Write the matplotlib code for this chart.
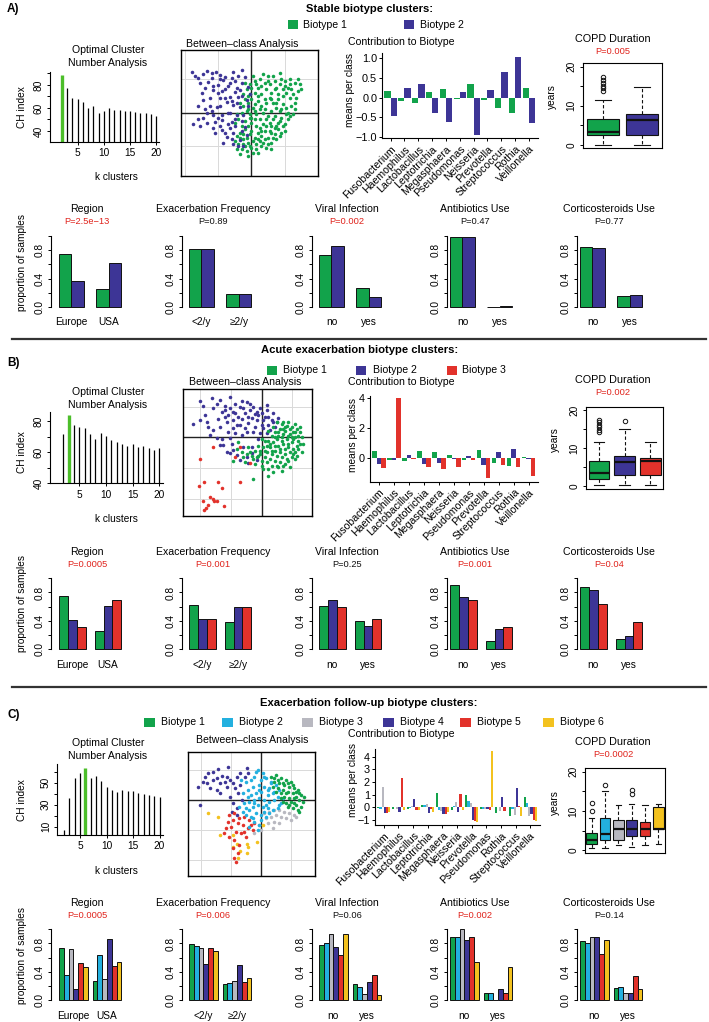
import numpy as np
import matplotlib
matplotlib.use("Agg")
import matplotlib.pyplot as plt
from matplotlib.patches import Rectangle

plt.rcParams['font.family'] = ['Liberation Sans', 'DejaVu Sans']
plt.rcParams['axes.linewidth'] = 0.8
plt.rcParams['xtick.major.size'] = 2.5
plt.rcParams['ytick.major.size'] = 2.5
plt.rcParams['xtick.major.width'] = 0.7
plt.rcParams['ytick.major.width'] = 0.7
plt.rcParams['xtick.labelsize'] = 7.3
plt.rcParams['ytick.labelsize'] = 7.3

# ---------------- colours ----------------
GREEN, PURPLE, RED = '#12A34B', '#3D3596', '#E2322B'
CYAN, GREY, YELLOW = '#23B0DF', '#B8B8C0', '#F3C21F'
LIME, PRED = '#4CBE2A', '#E0231C'

# ---------------- data ----------------
ks = list(range(2, 21))
ch_A = [89, 77, 69, 68, 65, 60, 62, 55.4, 57.4, 59.7, 58.3, 58, 57.4, 57, 56.5, 56, 55.5, 54.5, 53]
ch_B = [71.5, 83.8, 77.4, 76.2, 75.3, 71.5, 68.3, 72.1, 70.4, 67.8, 66.3, 65, 64, 65.2, 63.1, 64, 62.5, 61.4, 62.5]
ch_C = [7, 36.4, 54, 58.5, 63.6, 54, 56.4, 51.8, 46.4, 43.4, 41.8, 43.4, 42.8, 42.5, 40.3, 39.6, 38.8, 37.9, 37.3]
best_k = [2, 3, 6]

genera_A = ['Fusobacterium', 'Haemophilus', 'Lactobacillus', 'Leptotrichia', 'Megasphaera', 'Pseudomonas',
            'Neisseria', 'Prevotella', 'Streptococcus', 'Rothia', 'Veillonella']
genera_B = ['Fusobacterium', 'Haemophilus', 'Lactobacillus', 'Leptotrichia', 'Megasphaera', 'Neisseria',
            'Pseudomonas', 'Prevotella', 'Streptococcus', 'Rothia', 'Veillonella']
genera_C = ['Fusobacterium', 'Haemophilus', 'Lactobacillus', 'Leptotrichia', 'Megasphaera', 'Neisseria',
            'Prevotella', 'Pseudomonas', 'Rothia', 'Streptococcus', 'Veillonella']

contrib_A1 = [0.18, -0.08, -0.13, 0.15, 0.22, -0.04, 0.35, -0.06, -0.25, -0.38, 0.24]
contrib_A2 = [-0.47, 0.24, 0.34, -0.40, -0.61, 0.14, -0.95, 0.19, 0.66, 1.03, -0.64]

contrib_B1 = [0.45, -0.16, -0.20, 0.45, 0.36, 0.18, -0.16, 0.52, -0.32, -0.55, 0.07]
contrib_B2 = [-0.39, -0.16, 0.18, -0.43, -0.32, -0.11, 0.14, -0.45, 0.36, 0.59, -0.05]
contrib_B3 = [-0.68, 4.0, -0.09, -0.61, -0.73, -0.59, -0.16, -1.36, -0.50, -0.61, -1.23]

contrib_C1 = [-0.05, -0.10, -0.15, 0.20, 1.10, -0.20, 0.95, -0.15, -0.45, -0.65, 0.80]
contrib_C2 = [-0.10, 0.02, -0.05, 0.15, -0.20, 0.10, 0.50, -0.15, 0.05, -0.10, 0.30]
contrib_C3 = [1.60, -0.10, 0.10, 0.25, -0.30, 0.40, 0.35, -0.10, -0.30, -0.60, -0.70]
contrib_C4 = [-0.45, -0.35, 0.65, -0.45, -0.50, -0.40, -1.00, -0.15, 0.85, 1.50, -0.50]
contrib_C5 = [-0.45, 2.30, -0.25, -0.10, -0.50, 1.05, -1.05, -0.20, -0.30, 0.10, -1.00]
contrib_C6 = [-0.40, -0.20, -0.20, -0.40, -0.35, -0.20, -1.15, 4.45, 0.05, -0.70, -1.05]

# between-class analysis scores (arbitrary units)
bca_A_b2 = [(-180, 123), (-160, 103), (-135, 126), (-107, 123), (-155, 88), (-130, 93), (-100, 83), (-115, 68),
            (-85, 98), (-65, 88), (-55, 123), (-30, 128), (-20, 108), (-35, 68), (-45, 73), (-65, 48), (-95, 43),
            (-125, 43), (-145, 38), (-105, 18), (-75, 33), (-55, 23), (-35, 18), (-15, 38), (-135, -2), (-115, -7),
            (-90, -7), (-65, -2), (-45, -7), (-25, -7), (-110, -27), (-90, -22), (-60, -27), (-175, -34), (-155, -40),
            (-115, -47), (-90, -52), (-65, -45), (-55, -60), (-75, -72), (-85, -92), (-35, -82), (-15, -67), (-20, -42),
            (-40, 48), (-50, 63), (-30, 88), (-10, 78), (-95, 113), (-80, 108), (-120, 103), (-150, 60), (-125, 20),
            (-100, 60), (-80, 70), (-60, 105), (-70, 0), (-50, -40), (-30, -25), (-10, 20), (-5, 55), (-140, 10),
            (-100, -15), (-80, -60), (-40, -100), (-60, -80),
            (-170, 110), (-145, 115), (-120, 120), (-95, 100), (-140, 75), (-115, 80), (-90, 65), (-70, 80),
            (-50, 95), (-40, 110), (-160, 20), (-145, -15), (-120, 5), (-95, 20), (-80, 45), (-60, 35), (-45, 30),
            (-30, 50), (-110, -60), (-95, -40), (-70, -35), (-50, -20), (-30, -55), (-25, -100), (-55, -95),
            (-160, -20), (-135, -30)]
bca_A_b1 = [(-50, -85), (-40, -95), (-30, -110), (-20, -100), (-45, -70), (-35, -60), (-25, -80), (-10, -90), (0, -105),
            (5, -120), (-15, -115), (15, -95), (25, -85), (10, -75), (-5, -65), (-20, -50), (-30, -40), (-10, -40),
            (0, -55), (20, -60), (30, -70), (40, -55), (35, -90), (50, -75), (60, -60), (45, -40), (55, -30), (70, -45),
            (80, -30), (65, -20), (90, -15), (100, -35), (110, -20), (85, 5), (95, 25), (75, 15), (60, 5), (50, -10),
            (40, 10), (25, -20), (15, -5), (5, 15), (-5, -15), (-15, 5), (-25, 20), (-10, 30), (0, 40), (10, 25),
            (20, 35), (30, 20), (45, 30), (55, 45), (65, 30), (80, 40), (95, 50), (105, 60), (115, 45), (120, 20),
            (110, 0), (125, -5), (130, 30), (140, 65), (100, 80), (90, 100), (75, 75), (60, 60), (45, 70), (30, 55),
            (20, 75), (10, 60), (-5, 55), (-15, 70), (-5, 85), (10, 95), (25, 100), (40, 90), (50, 110), (35, 115),
            (70, 95), (85, 120), (100, 95), (115, 100), (130, 90), (140, 100), (120, 70), (5, 110), (-20, 40), (-30, 0),
            (-40, -20), (-20, -25), (15, -40), (35, -35), (25, -45), (60, -90), (45, -105), (20, -120), (-35, -125),
            (-10, -130), (75, -80), (90, -60), (70, 70), (55, 85), (80, 55), (-10, 10), (0, -30), (35, 0), (70, -10),
            (105, 15), (150, 70), (85, -25),
            (-45, -110), (-25, -95), (-5, -100), (15, -110), (30, -100), (50, -95), (65, -75), (80, -50), (95, -40),
            (115, -10), (130, 10), (135, 45), (125, 55), (110, 75), (95, 70), (85, 85), (65, 110), (50, 95), (30, 80),
            (15, 85), (0, 75), (-10, 50), (-25, 55), (-35, 30), (-45, -5), (-50, -30), (-35, -75), (-15, -75),
            (5, -85), (20, -80), (40, -80), (55, -55), (70, -65), (85, -70), (100, -55), (105, -5), (90, 10), (75, 30),
            (60, 40), (40, 40), (25, 10), (10, 5), (-5, -5), (10, -20), (30, -55), (45, -20), (60, -40), (75, -40),
            (115, 85), (145, 85), (-25, -65), (0, -15), (20, 50), (-20, 90), (60, -110)]

bca_B_b2 = [(-185, 109), (-150, 117), (-125, 112), (-95, 122), (-205, 39), (-170, 67), (-145, 87), (-120, 77), (-95, 87),
            (-80, 72), (-65, 92), (-45, 107), (-25, 92), (-5, 87), (15, 82), (35, 72), (50, 57), (30, 52), (10, 62),
            (-10, 67), (-30, 57), (-50, 72), (-70, 62), (-85, 52), (-105, 47), (-125, 32), (-145, 22), (-165, 47),
            (-185, 52), (-85, 27), (-65, 37), (-40, 42), (-20, 32), (0, 37), (20, 37), (40, 32), (-25, 17), (-45, 17),
            (-5, 12), (15, 12), (-60, 7), (-80, 12), (-95, -3), (-115, -23), (-105, -43), (-85, -38), (-75, -53),
            (-95, -48), (-65, -68), (-45, -58), (-30, -48), (-15, -68), (-40, -78), (-125, -23), (25, 22), (5, 52),
            (-15, 77), (-35, 82), (-55, 87), (-135, -3), (-155, 7), (-85, 77), (-15, 52), (35, 47), (15, 97), (-75, 37),
            (-50, 27), (5, 27), (-100, 67), (-110, 82),
            (-175, 95), (-135, 100), (-110, 95), (-80, 100), (-60, 110), (-35, 100), (-20, 70), (0, 72), (20, 60),
            (45, 45), (-110, 60), (-130, 55), (-160, 30), (-100, 15), (-120, -5), (-90, -20), (-55, -30), (-30, -30),
            (-10, -5), (-60, 55), (-40, 60)]
bca_B_b1 = [(60, 40), (75, 35), (90, 30), (105, 25), (115, 15), (120, 0), (110, -10), (100, 0), (85, 10), (70, 20),
            (55, 25), (40, 15), (30, 5), (45, -5), (60, 0), (75, -5), (90, -15), (105, -25), (95, -35), (80, -30),
            (65, -20), (50, -25), (35, -15), (20, -10), (25, -30), (40, -40), (55, -45), (70, -50), (85, -45),
            (100, -45), (110, -35), (90, -60), (75, -65), (60, -60), (45, -55), (30, -50), (15, -45), (5, -30),
            (-10, -25), (-20, -40), (-5, -50), (10, -60), (25, -65), (40, -70), (55, -75), (70, -80), (50, -90),
            (30, -85), (15, -75), (0, -70), (-15, -60), (-30, -55), (-45, -50), (-60, -45), (-20, -80), (5, -95),
            (35, -105), (20, -115), (60, -100), (-25, -125), (80, -20), (95, 15), (65, 10), (50, 5), (35, 30), (20, 20),
            (45, 45), (65, 45), (80, 45), (100, 40), (115, 30), (125, -20), (120, -45), (100, -65), (85, -90), (10, -10),
            (0, -5), (-5, -40), (-40, -30), (-55, -60), (-75, -35), (-85, -70), (-70, -15),
            (50, 15), (65, 25), (85, 25), (100, 15), (110, 5), (95, -5), (80, 5), (60, -10), (40, 0), (25, -20),
            (10, -40), (-10, -55), (-25, -65), (0, -85), (45, -85), (65, -85), (80, -70), (95, -50), (115, -20),
            (105, -55), (70, -35), (55, -35), (40, -25), (30, -40), (15, -25), (70, 30), (90, 0), (20, -95),
            (-35, -45), (-50, -75)]
bca_B_b3 = [(-145, -28), (-65, -28), (-185, -65), (-35, -78), (-65, -135), (-187, -145), (-173, -133), (-130, -135),
            (-120, -153), (-177, -191), (-155, -178), (-145, -185), (-143, -191), (-160, -203), (-167, -213),
            (-173, -218), (-135, -191), (-113, -205), (-80, -58)]

bca_C_b4 = [(-188, 40), (-183, -15), (-173, 55), (-168, 68), (-158, 80), (-143, 85), (-133, 65), (-123, 50), (-118, 72),
            (-108, 55), (-103, 68), (-93, 60), (-83, 50), (-73, 68), (-63, 80), (-48, 70), (-38, 80), (-43, 95),
            (-128, 92), (-98, 100), (-153, 35), (-133, 30), (-103, 40), (-78, 35), (-63, 45), (-93, 10), (-83, -10),
            (-71, -25), (-88, -35), (-73, -45), (-58, 0), (-68, 20), (-143, 60), (-163, 50), (-123, 20)]
bca_C_b2 = [(-10, 90), (5, 80), (-20, 70), (0, 60), (15, 65), (30, 55), (45, 45), (25, 35), (10, 40), (-5, 45), (-25, 40),
            (-40, 30), (-55, 20), (-30, 15), (-15, 20), (0, 25), (20, 15), (35, 20), (50, 10), (65, 5), (40, 0), (25, -5),
            (10, 0), (-5, 5), (-20, 0), (-35, -5), (-50, -10), (-65, -20), (-45, -25), (-25, -20), (-10, -15), (5, -20),
            (20, -25), (35, -30), (50, -25), (-15, -40), (0, -45), (15, -50), (-30, -50), (-45, -45), (-20, -65),
            (-5, -75), (-35, -80), (-10, -90), (30, 50), (55, 30), (-45, 55), (-60, 60), (10, -35), (60, -10),
            (-15, 85), (10, 70), (-30, 60), (20, 30), (-5, 30), (-20, -10), (-40, 10), (40, 25), (55, -15), (25, -40),
            (-35, -30), (-55, -35), (-25, -55), (0, -60), (15, -15)]
bca_C_b1 = [(30, 70), (45, 75), (60, 65), (75, 60), (90, 55), (70, 45), (55, 50), (40, 55), (85, 40), (100, 35),
            (110, 30), (95, 20), (80, 25), (65, 30), (50, 35), (35, 40), (105, 10), (120, 15), (115, 0), (100, 5),
            (85, 5), (70, 10), (60, 20), (90, -5), (105, -15), (120, -20), (75, -10), (95, -25), (110, -30), (125, -5),
            (80, -20), (65, -5),
            (40, 65), (50, 60), (65, 50), (80, 50), (95, 45), (105, 25), (115, 20), (75, 20), (60, 5), (85, -15),
            (100, -10), (115, -35), (130, 10), (45, 25)]
bca_C_b3 = [(10, -40), (25, -35), (40, -30), (55, -30), (70, -35), (85, -40), (100, -45), (15, -55), (30, -50), (45, -45),
            (60, -50), (75, -55), (90, -60), (105, -50), (20, -70), (40, -65), (55, -70), (35, -85), (-5, -75),
            (0, -90), (-20, -100)]
bca_C_b5 = [(-95, -45), (-80, -40), (-65, -55), (-50, -50), (-35, -60), (-20, -70), (-100, -65), (-85, -60), (-70, -70),
            (-55, -75), (-40, -85), (-25, -90), (-105, -85), (-90, -80), (-75, -95), (-60, -100), (-45, -110),
            (-95, -110), (-80, -120), (-65, -135), (-85, -145), (-70, -160), (-80, -175), (-75, -185), (-110, -100),
            (-30, -75), (-50, -95)]
bca_C_b6 = [(-158, -40), (-128, -50), (-123, -105), (-83, -105), (-71, -132), (-43, -132), (-38, -140), (-13, -125),
            (-83, -140), (-63, -153), (-43, -160), (-68, -175), (7, -75)]

# COPD duration box statistics (years): lower whisker, Q1, median, Q3, upper whisker, outliers
copd_A = [(0, 2.5, 3.4, 6.5, 11.5, [13.8, 14.5, 15.1, 15.8, 16.5, 17.2]),
          (0, 2.5, 6.4, 8.0, 14.9, [])]
copd_B = [(0.3, 1.9, 3.5, 6.5, 11.5, [14.1, 14.8, 15.5, 16.2, 16.9, 17.4]),
          (0.3, 2.8, 6.4, 8.0, 15.0, [17.1]),
          (0.3, 3.0, 6.5, 7.5, 11.5, [])]
copd_C = [(0.6, 1.5, 2.5, 4.4, 8.1, [10.0, 12.1]),
          (0.6, 2.5, 4.1, 8.3, 15.1, [16.6]),
          (1.2, 2.5, 5.4, 7.7, 11.5, []),
          (0.9, 3.6, 5.5, 7.7, 11.9, [14.3, 15.3]),
          (1.2, 3.7, 5.5, 7.1, 11.5, []),
          (1.7, 5.4, 5.4, 11.1, 11.9, [])]

# proportions of samples  [category][biotype]
region_cats = ['Europe', 'USA']
exac_cats = ['<2/y', '\u22652/y']
yesno_cats = ['no', 'yes']

region_A = [[0.745, 0.37], [0.25, 0.62]]
exac_A = [[0.81, 0.81], [0.19, 0.18]]
viral_A = [[0.73, 0.86], [0.27, 0.14]]
antib_A = [[0.98, 0.98], [0.01, 0.02]]
cortico_A = [[0.84, 0.83], [0.16, 0.17]]

region_B = [[0.75, 0.41, 0.315], [0.26, 0.61, 0.69]]
exac_B = [[0.62, 0.42, 0.43], [0.39, 0.59, 0.59]]
viral_B = [[0.61, 0.69, 0.59], [0.40, 0.33, 0.43]]
antib_B = [[0.91, 0.74, 0.70], [0.12, 0.28, 0.32]]
cortico_B = [[0.88, 0.83, 0.64], [0.14, 0.19, 0.38]]

region_C = [[0.73, 0.36, 0.72, 0.15, 0.52, 0.46], [0.27, 0.64, 0.29, 0.86, 0.48, 0.54]]
exac_C = [[0.79, 0.77, 0.74, 0.51, 0.74, 0.70], [0.22, 0.235, 0.27, 0.49, 0.26, 0.31]]
viral_C = [[0.78, 0.81, 0.93, 0.75, 0.64, 0.93], [0.23, 0.19, 0.08, 0.25, 0.36, 0.07]]
antib_C = [[0.89, 0.885, 1.0, 0.85, 0.885, 0.54], [0.094, 0.10, 0.0, 0.15, 0.10, 0.46]]
cortico_C = [[0.83, 0.81, 0.89, 0.89, 0.65, 0.85], [0.165, 0.18, 0.10, 0.094, 0.34, 0.15]]

pvals_A = ['P=2.5e\u221213', 'P=0.89', 'P=0.002', 'P=0.47', 'P=0.77']
pvals_B = ['P=0.0005', 'P=0.001', 'P=0.25', 'P=0.001', 'P=0.04']
pvals_C = ['P=0.0005', 'P=0.006', 'P=0.06', 'P=0.002', 'P=0.14']
copd_p = ['P=0.005', 'P=0.002', 'P=0.0002']
panel_titles = ['Region', 'Exacerbation Frequency', 'Viral Infection', 'Antibiotics Use', 'Corticosteroids Use']

# ---------------- helpers ----------------
W, H = 709, 1022
fig = plt.figure(figsize=(W / 100, H / 100), dpi=100)
fig.patch.set_facecolor('white')

FS = 7.3


def axpx(l, t, r, b):
    return fig.add_axes([l / W, 1 - b / H, (r - l) / W, (b - t) / H])


def tpx(x, y, s, **kw):
    kw.setdefault('ha', 'center')
    kw.setdefault('va', 'center')
    kw.setdefault('fontsize', FS)
    fig.text(x / W, 1 - y / H, s, **kw)


def square(x, y, c, w=10, h=9):
    fig.add_artist(Rectangle((x / W, 1 - (y + h / 2) / H), w / W, h / H, transform=fig.transFigure,
                             facecolor=c, edgecolor='none'))


def is_sig(p):
    v = p.split('=')[1].replace('\u2212', '-')
    return float(v) < 0.05


def ch_panel(box, vals, best, xlim, ylim, yticks, ylabs, title_y, ylab_y, klab_y):
    ax = axpx(*box)
    for k, v in zip(ks, vals):
        if k == best:
            ax.vlines(k, ylim[0], v, color=LIME, lw=2.4)
        else:
            ax.vlines(k, ylim[0], v, color='black', lw=0.9)
    ax.set_xlim(*xlim)
    ax.set_ylim(*ylim)
    for s in ['top', 'right']:
        ax.spines[s].set_visible(False)
    ax.set_xticks([5, 10, 15, 20])
    ax.tick_params(axis='x', pad=2)
    ax.set_yticks(yticks)
    ax.set_yticklabels(ylabs, rotation=90, va='center')
    ax.tick_params(axis='y', pad=2)
    tpx(108, title_y, 'Optimal Cluster', fontsize=FS + 0.3)
    tpx(108, title_y + 13, 'Number Analysis', fontsize=FS + 0.3)
    tpx(22, ylab_y, 'CH index', rotation=90)
    tpx(116, klab_y, 'k clusters')


def bca_panel(box, groups, colors, xlim, ylim, gx, gy, title_x, title_y):
    ax = axpx(*box)
    for g in gx:
        ax.axvline(g, color='#d9d9d9', lw=0.7, zorder=0)
    for g in gy:
        ax.axhline(g, color='#d9d9d9', lw=0.7, zorder=0)
    ax.axvline(0, color='#222222', lw=1.0, zorder=1)
    ax.axhline(0, color='#222222', lw=1.0, zorder=1)
    for pts, c in zip(groups, colors):
        p = np.array(pts, dtype=float)
        ax.scatter(p[:, 0], p[:, 1], s=6.5, color=c, linewidths=0, zorder=2)
    ax.set_xlim(*xlim)
    ax.set_ylim(*ylim)
    ax.set_xticks([])
    ax.set_yticks([])
    for s in ax.spines.values():
        s.set_linewidth(1.0)
    tpx(title_x, title_y, 'Between\u2013class Analysis', fontsize=FS + 0.3)


def contrib_panel(box, genera, series, colors, ylim, yticks, ylabs, title_y, ylab_x, ylab_y):
    ax = axpx(*box)
    n = len(series)
    w = 0.9 / n
    x = np.arange(len(genera))
    for i, (v, c) in enumerate(zip(series, colors)):
        ax.bar(x - 0.45 + w * (i + 0.5), v, width=w, color=c, lw=0)
    ax.set_xlim(-0.6, len(genera) - 1 + 0.65)
    ax.set_ylim(*ylim)
    for s in ['top', 'right']:
        ax.spines[s].set_visible(False)
    ax.set_xticks(x)
    ax.set_xticklabels(genera, rotation=45, ha='right', va='top', rotation_mode='anchor', fontsize=FS + 0.3)
    ax.tick_params(axis='x', pad=1.5)
    ax.set_yticks(yticks)
    ax.set_yticklabels(ylabs, fontsize=FS + 0.5)
    ax.tick_params(axis='y', pad=1.2)
    tpx(401, title_y, 'Contribution to Biotype', fontsize=FS + 0.3)
    tpx(ylab_x, ylab_y, 'means per class', rotation=90)


def copd_panel(box, stats, colors, title_y, ylab_xy, ptxt):
    ax = axpx(*box)
    n = len(stats)
    bstats = []
    for lo, q1, med, q3, hi, fl in stats:
        bstats.append(dict(whislo=lo, q1=q1, med=med, q3=q3, whishi=hi, fliers=fl))
    bp = ax.bxp(bstats, positions=list(range(1, n + 1)), widths=0.8, patch_artist=True,
                boxprops=dict(edgecolor='#111111', lw=0.8),
                medianprops=dict(color='#111111', lw=1.6),
                whiskerprops=dict(color='#111111', lw=0.8, linestyle=(0, (3, 2))),
                capprops=dict(color='#111111', lw=0.8),
                capwidths=0.4,
                flierprops=dict(marker='o', markerfacecolor='none', markeredgecolor='#111111',
                                markersize=3.2, markeredgewidth=0.7))
    for patch, c in zip(bp['boxes'], colors):
        patch.set_facecolor(c)
    ax.set_xlim(0.5, n + 0.5)
    ax.set_ylim(-0.8, 20.9)
    ax.set_xticks([])
    ax.set_yticks([0, 5, 10, 15, 20])
    ax.set_yticklabels(['0', '', '10', '', '20'], rotation=90, va='center')
    ax.tick_params(axis='y', pad=2)
    cx = 613
    tpx(cx, title_y, 'COPD Duration', fontsize=FS + 0.5)
    tpx(cx, title_y + 12.5, ptxt, color=PRED, fontsize=FS - 0.6)
    tpx(ylab_xy[0], ylab_xy[1], 'years', rotation=90)


AXES_X = [51, 182, 312, 447, 577]
BAR_X0 = [59, 189, 319, 450, 580]
TITLE_X = [87, 213, 347, 475, 609]
BAR_SPAN = 62.4


def prop_row(datasets, cats_list, colors, pvals, top, bottom, title_y, lab_y, ylab_y):
    n = len(colors)
    units = 2 * n + 1
    ppu = BAR_SPAN / units
    for j, (vals, cats) in enumerate(zip(datasets, cats_list)):
        ax_x, b0 = AXES_X[j], BAR_X0[j]
        lpad = (b0 - ax_x) / ppu
        ax = axpx(ax_x, top, b0 + BAR_SPAN, bottom)
        for g, gv in enumerate(vals):
            for i, v in enumerate(gv):
                ax.bar(g * (n + 1) + i, v, width=1, align='edge', color=colors[i],
                       edgecolor='#111111', lw=0.7, clip_on=False)
            gc = b0 + (g * (n + 1) + n / 2) * ppu
            tpx(gc, lab_y, cats[g])
        ax.set_xlim(-lpad, units)
        ax.set_ylim(0, 1)
        for s in ['top', 'right', 'bottom']:
            ax.spines[s].set_visible(False)
        ax.set_xticks([])
        ax.set_yticks([0, 0.2, 0.4, 0.6, 0.8, 1.0])
        ax.set_yticklabels(['0.0', '', '0.4', '', '0.8', ''], rotation=90, va='center')
        ax.tick_params(axis='y', pad=2)
        tpx(TITLE_X[j], title_y, panel_titles[j], fontsize=FS + 0.3)
        tpx(TITLE_X[j], title_y + 12.5, pvals[j], color=PRED if is_sig(pvals[j]) else '#111111',
            fontsize=FS - 0.6)
    tpx(22, ylab_y, 'proportion of samples', rotation=90)


# ================= Panel A =================
tpx(7, 9, 'A)', ha='left', fontsize=FS + 1.2, fontweight='bold')
tpx(370, 9, 'Stable biotype clusters:', fontsize=FS + 0.8, fontweight='bold')
square(288, 24.5, GREEN)
tpx(303, 24.5, 'Biotype 1', ha='left', fontsize=FS + 0.3)
square(404, 24.5, PURPLE)
tpx(420, 24.5, 'Biotype 2', ha='left', fontsize=FS + 0.3)

ch_panel((50, 72, 159.3, 142), ch_A, best_k[0], (-0.3, 20.6), (30.4, 91.3),
         [40, 50, 60, 70, 80, 90], ['40', '', '60', '', '80', ''], 50, 107, 177)
bca_panel((181, 50, 318, 176), [bca_A_b1, bca_A_b2], [GREEN, PURPLE], (-212, 200), (-190, 188),
          [-200, -100, 100], [-100, 100], 242, 44)
contrib_panel((382.3, 53, 538, 138.3), genera_A, [contrib_A1, contrib_A2], [GREEN, PURPLE],
              (-1.03, 1.134), [-1, -0.5, 0, 0.5, 1.0], ['\u22121.0', '\u22120.5', '0.0', '0.5', '1.0'],
              42, 350, 90)
copd_panel((583, 63, 662, 148), copd_A, [GREEN, PURPLE], 38.5, (552, 97), copd_p[0])
prop_row([region_A, exac_A, viral_A, antib_A, cortico_A],
         [region_cats, exac_cats, yesno_cats, yesno_cats, yesno_cats],
         [GREEN, PURPLE], pvals_A, 235.7, 307.3, 209, 322.3, 262)

fig.add_artist(plt.Line2D([12 / W, 706 / W], [1 - 339 / H, 1 - 339 / H], transform=fig.transFigure,
                          color='#333333', lw=1.6))

# ================= Panel B =================
tpx(7, 363, 'B)', ha='left', fontsize=FS + 1.2, fontweight='bold')
tpx(360, 350, 'Acute exacerbation biotype clusters:', fontsize=FS + 0.8, fontweight='bold')
square(267, 370, GREEN)
tpx(283, 370, 'Biotype 1', ha='left', fontsize=FS + 0.3)
square(356, 370, PURPLE)
tpx(373, 370, 'Biotype 2', ha='left', fontsize=FS + 0.3)
square(447, 370, RED)
tpx(462, 370, 'Biotype 3', ha='left', fontsize=FS + 0.3)

ch_panel((50, 411.7, 162.7, 483.3), ch_B, best_k[1], (-0.5, 20.6), (40, 86),
         [40, 50, 60, 70, 80], ['40', '', '60', '', '80'], 391.7, 451.7, 519)
bca_panel((183.3, 389.3, 311.7, 516), [bca_B_b2, bca_B_b1, bca_B_b3], [PURPLE, GREEN, RED],
          (-235, 150), (-236, 144), [-184, -92, 92], [92, -92, -184], 245, 382.3)
contrib_panel((370, 395.7, 538.3, 481.7), genera_B, [contrib_B1, contrib_B2, contrib_B3], [GREEN, PURPLE, RED],
              (-1.6, 4.17), [0, 2, 4], ['0', '2', '4'], 382.3, 353, 435)
copd_panel((586, 406.7, 663.3, 489), copd_B, [GREEN, PURPLE, RED], 380, (555, 440), copd_p[1])
prop_row([region_B, exac_B, viral_B, antib_B, cortico_B],
         [region_cats, exac_cats, yesno_cats, yesno_cats, yesno_cats],
         [GREEN, PURPLE, RED], pvals_B, 578.3, 649.3, 551.7, 665, 604)

fig.add_artist(plt.Line2D([12 / W, 706 / W], [1 - 686.7 / H, 1 - 686.7 / H], transform=fig.transFigure,
                          color='#333333', lw=1.6))

# ================= Panel C =================
tpx(7, 715, 'C)', ha='left', fontsize=FS + 1.2, fontweight='bold')
tpx(369, 703, 'Exacerbation follow-up biotype clusters:', fontsize=FS + 0.8, fontweight='bold')
legC = [(144.3, GREEN, 'Biotype 1'), (221.7, CYAN, 'Biotype 2'), (301.7, GREY, 'Biotype 3'),
        (383.3, PURPLE, 'Biotype 4'), (460, RED, 'Biotype 5'), (542.7, YELLOW, 'Biotype 6')]
for xq, c, lab in legC:
    square(xq, 722.3, c, w=11)
    tpx(xq + 17, 722.3, lab, ha='left', fontsize=FS + 0.3)

ch_panel((57.3, 764, 162.7, 835), ch_C, best_k[2], (0.7, 20.6), (2.5, 67),
         [10, 20, 30, 40, 50, 60], ['10', '', '30', '', '50', ''], 743.3, 800, 871)
bca_panel((188.3, 751.7, 315, 876), [bca_C_b4, bca_C_b6, bca_C_b5, bca_C_b3, bca_C_b2, bca_C_b1],
          [PURPLE, YELLOW, RED, GREY, CYAN, GREEN],
          (-218, 162), (-228, 145), [-180, -90, 90], [90, -90, -180], 251.7, 740)
contrib_panel((375, 749.3, 540, 825), genera_C,
              [contrib_C1, contrib_C2, contrib_C3, contrib_C4, contrib_C5, contrib_C6],
              [GREEN, CYAN, GREY, PURPLE, RED, YELLOW],
              (-1.4, 4.58), [-1, 0, 1, 2, 3, 4], ['\u22121', '0', '1', '2', '3', '4'], 734.3, 353, 780)
copd_panel((585, 768.3, 665, 853.3), copd_C, [GREEN, CYAN, GREY, PURPLE, RED, YELLOW], 742.3, (555, 803),
           copd_p[2])
prop_row([region_C, exac_C, viral_C, antib_C, cortico_C],
         [region_cats, exac_cats, yesno_cats, yesno_cats, yesno_cats],
         [GREEN, CYAN, GREY, PURPLE, RED, YELLOW], pvals_C, 929.3, 1000, 902.7, 1016, 956)

fig.savefig('out.png', dpi=100, facecolor='white')
